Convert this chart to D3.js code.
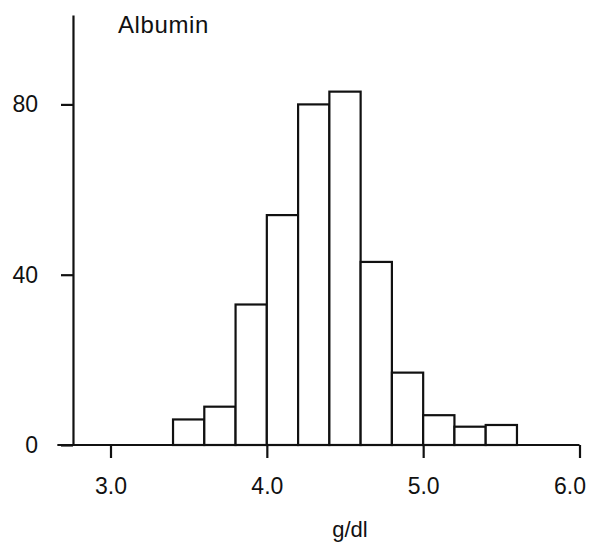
<!DOCTYPE html>
<html>
<head>
<meta charset="utf-8">
<script src="https://cdn.jsdelivr.net/npm/d3@7"></script>
<style>
  body { margin: 0; background: #fff; }
  svg { display: block; }
  text { font-family: "Liberation Sans", Arial, sans-serif; fill: #111; }
  .bar { fill: #fff; stroke: #111; stroke-width: 2.2; }
  .axis path, .axis line { stroke: #111; stroke-width: 2.2; }
</style>
</head>
<body>
<div id="chart"></div>
<script>
// bin edges (g/dl) and counts
var binStarts = [3.4, 3.6, 3.8, 4.0, 4.2, 4.4, 4.6, 4.8, 5.0, 5.2, 5.4];
var binWidth = 0.2;
var counts = [6, 9, 33, 54, 80, 83, 43, 17, 7, 4.3, 4.7];
var xTicks = [3.0, 4.0, 5.0, 6.0];
var yTicks = [0, 40, 80];

var width = 591, height = 543;

var svg = d3.select("#chart").append("svg")
    .attr("width", width)
    .attr("height", height);

// scales
var x = d3.scaleLinear().domain([3, 6]).range([110.5, 579.5]);
var y = d3.scaleLinear().domain([0, 101]).range([445, 15]);

var data = binStarts.map(function(s, i) {
    return {x0: s, x1: s + binWidth, n: counts[i]};
});

// bars
svg.append("g")
    .selectAll("rect")
    .data(data)
    .enter().append("rect")
    .attr("class", "bar")
    .attr("x", function(d) { return x(d.x0); })
    .attr("width", function(d) { return x(d.x1) - x(d.x0); })
    .attr("y", function(d) { return y(d.n); })
    .attr("height", function(d) { return y(0) - y(d.n); });

// x axis
var xAxis = d3.axisBottom(x)
    .tickValues(xTicks)
    .tickFormat(d3.format(".1f"))
    .tickSize(13)
    .tickSizeOuter(0)
    .tickPadding(20);

var xg = svg.append("g")
    .attr("class", "axis")
    .attr("transform", "translate(0," + y(0) + ")")
    .call(xAxis);
xg.select(".domain").attr("d", "M" + x(2.66) + ",0H" + x(6));
xg.selectAll("text").style("font-size", "23px");
// last label sits inside the right edge, as in the original
xg.selectAll(".tick").filter(function(d) { return d === 6; })
    .select("text")
    .attr("text-anchor", "end")
    .attr("x", 6);

// y axis
var yAxis = d3.axisLeft(y)
    .tickValues(yTicks)
    .tickSize(12)
    .tickSizeOuter(0)
    .tickPadding(23);

var yg = svg.append("g")
    .attr("class", "axis")
    .attr("transform", "translate(" + x(2.76) + ",0)")
    .call(yAxis);
yg.selectAll("text").style("font-size", "23px");

// labels
svg.append("text")
    .attr("x", 118)
    .attr("y", 33)
    .style("font-size", "24px")
    .style("letter-spacing", "0.6px")
    .text("Albumin");

svg.append("text")
    .attr("x", 350)
    .attr("y", 537)
    .attr("text-anchor", "middle")
    .style("font-size", "22px")
    .text("g/dl");
</script>
</body>
</html>
